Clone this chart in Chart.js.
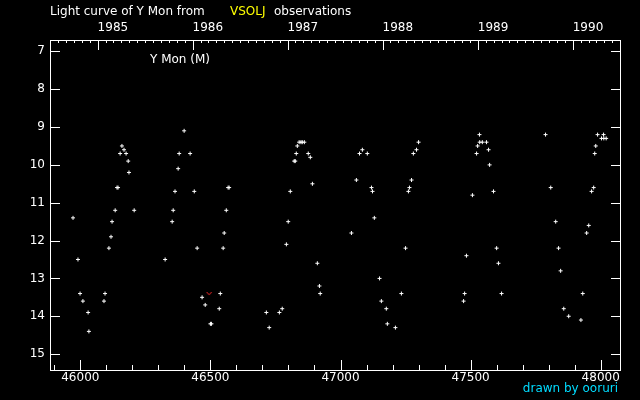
<!DOCTYPE html>
<html>
<head>
<meta charset="utf-8">
<script src="https://cdn.jsdelivr.net/npm/chart.js@4"></script>
<style>
  html, body { margin: 0; padding: 0; background: #000; }
  #wrap { width: 640px; height: 400px; }
</style>
</head>
<body>
<div id="wrap"><canvas id="lc" width="640" height="400"></canvas></div>
<script>
// visual estimates (JD - 2400000, visual magnitude)
const obsJd = [
  45972, 45991, 45999, 46010, 46030, 46033, 46091, 46095, 46110, 46118,
  46122, 46134, 46141, 46145, 46153, 46160, 46168, 46176, 46184, 46187,
  46207, 46326, 46353, 46357, 46364, 46376, 46380, 46399, 46422, 46438,
  46449, 46468, 46480, 46500, 46504, 46534, 46538, 46549, 46553, 46561,
  46568, 46572,
  46715, 46726, 46765, 46776, 46792, 46799, 46807, 46822, 46826, 46830,
  46834, 46841, 46848, 46853, 46861, 46876, 46884, 46892, 46911, 46919,
  46922, 47042, 47061, 47073, 47084, 47103, 47119, 47123, 47130, 47150,
  47157, 47176, 47180, 47211, 47234, 47250, 47261, 47265, 47273, 47280,
  47292, 47300,
  47473, 47477, 47484, 47507, 47523, 47527, 47534, 47535, 47545, 47561,
  47569, 47573, 47588, 47600, 47607, 47619, 47788, 47808, 47827, 47838,
  47846, 47858, 47877, 47924, 47931, 47946, 47954, 47965, 47973, 47977,
  47981, 47988, 48003, 48011, 48012, 48021
];
const obsMag = [
  11.4, 12.5, 13.4, 13.6, 13.9, 14.4, 13.6, 13.4, 12.2, 11.9,
  11.5, 11.2, 10.6, 10.6, 9.7, 9.5, 9.6, 9.7, 9.9, 10.2,
  11.2, 12.5, 11.5, 11.2, 10.7, 10.1, 9.7, 9.1, 9.7, 10.7,
  12.2, 13.5, 13.7, 14.2, 14.2, 13.8, 13.4, 12.2, 11.8, 11.2,
  10.6, 10.6,
  13.9, 14.3, 13.9, 13.8, 12.1, 11.5, 10.7, 9.9, 9.9, 9.7,
  9.5, 9.4, 9.4, 9.4, 9.4, 9.7, 9.8, 10.5, 12.6, 13.2,
  13.4, 11.8, 10.4, 9.7, 9.6, 9.7, 10.6, 10.7, 11.4, 13.0,
  13.6, 13.8, 14.2, 14.3, 13.4, 12.2, 10.7, 10.6, 10.4, 9.7,
  9.6, 9.4,
  13.6, 13.4, 12.4, 10.8, 9.7, 9.5, 9.2, 9.4, 9.4, 9.4,
  9.6, 10.0, 10.7, 12.2, 12.6, 13.4, 9.2, 10.6, 11.5, 12.2,
  12.8, 13.8, 14.0, 14.1, 13.4, 11.8, 11.6, 10.7, 10.6, 9.7,
  9.5, 9.2, 9.3, 9.2, 9.3, 9.3
];
// "fainter than" estimate
const fainterJd = [46495];
const fainterMag = [13.4];

const jdTicks = [46000, 46500, 47000, 47500, 48000];
const magTicks = [7, 8, 9, 10, 11, 12, 13, 14, 15];
const yearLabels = ['1985', '1986', '1987', '1988', '1989', '1990'];
const yearJd = [46066.5, 46431.5, 46796.5, 47161.5, 47527.5, 47892.5];

const jdMin = 45883.5, jdMax = 48078;
const magMin = 6.7, magMax = 15.42;

Chart.defaults.font.family = 'DejaVu Sans';
Chart.defaults.font.size = 12;
Chart.defaults.color = '#ffffff';

// small red "v" for the fainter-than mark
const vMark = document.createElement('canvas');
vMark.width = 7; vMark.height = 5;
(function () {
  const c = vMark.getContext('2d');
  c.strokeStyle = '#ff2a2a';
  c.lineWidth = 1;
  c.beginPath();
  c.moveTo(1, 1);
  c.lineTo(3.5, 3.8);
  c.lineTo(6, 1);
  c.stroke();
})();

const framePlugin = {
  id: 'frame',
  afterDatasetsDraw(chart) {
    const ctx = chart.ctx;
    const a = chart.chartArea;
    const x = chart.scales.x, y = chart.scales.y;
    ctx.save();
    ctx.strokeStyle = '#fff';
    ctx.lineWidth = 1;
    ctx.strokeRect(a.left + 0.5, a.top + 0.5, a.right - a.left - 1, a.bottom - a.top);
    ctx.beginPath();
    // bottom ticks, every 100 days, long every 500
    for (let d = 45900; d <= jdMax; d += 100) {
      const px = Math.round(x.getPixelForValue(d)) + 0.5;
      const len = d % 500 === 0 ? 10 : 5;
      ctx.moveTo(px, a.bottom);
      ctx.lineTo(px, a.bottom - len);
    }
    // top ticks, years with monthly subdivisions
    for (let yr = -1; yr < yearJd.length; yr++) {
      const base = yr < 0 ? yearJd[0] - 365 : yearJd[yr];
      for (let m = 0; m < 12; m++) {
        const d = base + m * 365.25 / 12;
        if (d < jdMin || d > jdMax) continue;
        const px = Math.round(x.getPixelForValue(d)) + 0.5;
        const len = m === 0 && yr >= 0 ? 10 : 3;
        ctx.moveTo(px, a.top);
        ctx.lineTo(px, a.top + len);
      }
    }
    // left and right magnitude ticks
    magTicks.forEach(v => {
      const py = Math.round(y.getPixelForValue(v)) + 0.5;
      ctx.moveTo(a.left, py);
      ctx.lineTo(a.left + 10, py);
      ctx.moveTo(a.right, py);
      ctx.lineTo(a.right - 10, py);
    });
    ctx.stroke();

    // title and labels
    ctx.textBaseline = 'middle';
    ctx.textAlign = 'left';
    ctx.font = '12px "DejaVu Sans"';
    ctx.fillStyle = '#fff';
    ctx.fillText('Light curve of Y Mon from', 50, 12);
    ctx.fillStyle = '#ffff00';
    ctx.fillText('VSOLJ', 230, 12);
    ctx.fillStyle = '#fff';
    ctx.fillText('observations', 274, 12);
    ctx.fillText('Y Mon (M)', 150, 60);
    ctx.fillStyle = '#00dcff';
    ctx.textAlign = 'right';
    ctx.fillText('drawn by ooruri', 618, 389);
    ctx.restore();
  }
};

new Chart(document.getElementById('lc'), {
  type: 'scatter',
  data: {
    datasets: [{
      data: obsJd.map((d, i) => ({ x: d, y: obsMag[i] })),
      pointStyle: 'cross',
      radius: 2,
      borderWidth: 1,
      borderColor: '#fff',
      backgroundColor: '#fff'
    }, {
      data: fainterJd.map((d, i) => ({ x: d, y: fainterMag[i] })),
      pointStyle: vMark,
      radius: 3
    }]
  },
  options: {
    responsive: false,
    animation: false,
    events: [],
    layout: { autoPadding: false, padding: { left: 0, right: 19, top: 0, bottom: 0 } },
    plugins: { legend: { display: false }, tooltip: { enabled: false } },
    scales: {
      x: {
        type: 'linear', position: 'bottom', min: jdMin, max: jdMax,
        grid: { display: false, drawTicks: false }, border: { display: false },
        afterBuildTicks: s => { s.ticks = jdTicks.map(v => ({ value: v })); },
        afterFit: s => { s.height = 30; },
        ticks: { padding: 1, maxRotation: 0, autoSkip: false, callback: v => String(v) }
      },
      x2: {
        type: 'linear', position: 'top', min: jdMin, max: jdMax,
        grid: { display: false, drawTicks: false }, border: { display: false },
        afterBuildTicks: s => { s.ticks = yearJd.map(v => ({ value: v })); },
        afterFit: s => { s.height = 40; },
        ticks: { align: 'start', padding: 5, maxRotation: 0, autoSkip: false,
                 callback: (v, i) => yearLabels[i] }
      },
      y: {
        type: 'linear', reverse: true, min: magMin, max: magMax,
        grid: { display: false, drawTicks: false }, border: { display: false },
        afterBuildTicks: s => { s.ticks = magTicks.map(v => ({ value: v })); },
        afterFit: s => { s.width = 50; },
        ticks: { padding: 5, autoSkip: false }
      }
    }
  },
  plugins: [framePlugin]
});
</script>
</body>
</html>
